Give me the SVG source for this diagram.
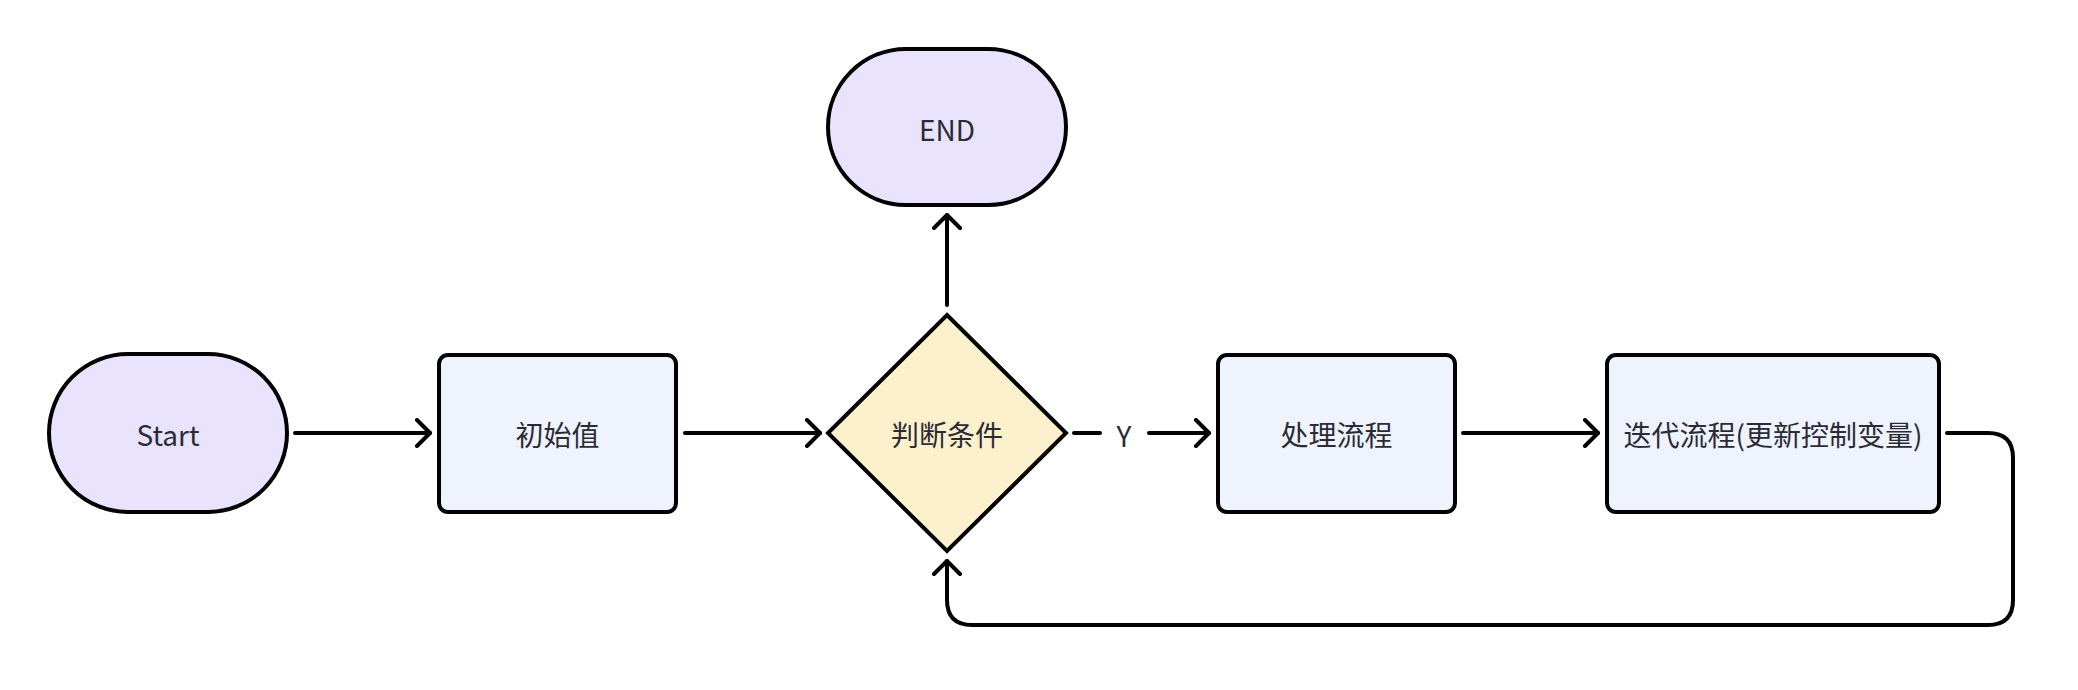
<svg xmlns="http://www.w3.org/2000/svg" width="2078" height="690" viewBox="0 0 2078 690">
<style>
.term{fill:#E9E3FE;stroke:#000;stroke-width:4}
.proc{fill:#EEF3FD;stroke:#000;stroke-width:4}
.dec{fill:#FDF0CD;stroke:#000;stroke-width:4;stroke-linejoin:miter}
.lbl{font-family:"Noto Sans CJK SC","Noto Sans",sans-serif;font-size:28px;fill:#2B2B35;text-anchor:middle;dominant-baseline:central}
.edge{fill:none;stroke:#000;stroke-width:4;stroke-linecap:round;stroke-linejoin:round}
</style>
<defs>
<marker id="arr" viewBox="0 0 30 30" refX="22" refY="15" markerWidth="30" markerHeight="30" markerUnits="userSpaceOnUse" orient="auto">
<path d="M9,2 L22,15 L9,28" fill="none" stroke="#000" stroke-width="4" stroke-linecap="round" stroke-linejoin="round"/>
</marker>
</defs>
<rect width="2078" height="690" fill="#fff"/>
<g id="connectors">
<path class="edge" d="M295,433 L430,433" marker-end="url(#arr)"/>
<path class="edge" d="M685,433 L820,433" marker-end="url(#arr)"/>
<path class="edge" d="M947,305 L947,215" marker-end="url(#arr)"/>
<path class="edge" d="M1074,433 L1100,433"/>
<path class="edge" d="M1149,433 L1209,433" marker-end="url(#arr)"/>
<text class="lbl" x="1124" y="435">Y</text>
<path class="edge" d="M1463,433 L1598,433" marker-end="url(#arr)"/>
<path class="edge" d="M1947,433 L1988,433 Q2013,433 2013,458 L2013,600 Q2013,625 1988,625 L972,625 Q947,625 947,600 L947,561" marker-end="url(#arr)"/>
</g>
<g id="start">
<rect class="term" x="49" y="354" width="238" height="158" rx="79" ry="79"/>
<text class="lbl" x="168" y="434">Start</text>
</g>
<g id="init">
<rect class="proc" x="439" y="355" width="237" height="157" rx="9"/>
<text class="lbl" x="557.5" y="434">初始值</text>
</g>
<g id="cond">
<polygon class="dec" points="947,315 1066,433 947,551 828,433"/>
<text class="lbl" x="947" y="434">判断条件</text>
</g>
<g id="end">
<rect class="term" x="828" y="49" width="238" height="156" rx="78" ry="78"/>
<text class="lbl" x="947" y="129">END</text>
</g>
<g id="process">
<rect class="proc" x="1218" y="355" width="237" height="157" rx="9"/>
<text class="lbl" x="1336.5" y="434">处理流程</text>
</g>
<g id="iterate">
<rect class="proc" x="1607" y="355" width="332" height="157" rx="9"/>
<text class="lbl" x="1773" y="434">迭代流程(更新控制变量)</text>
</g>
</svg>
